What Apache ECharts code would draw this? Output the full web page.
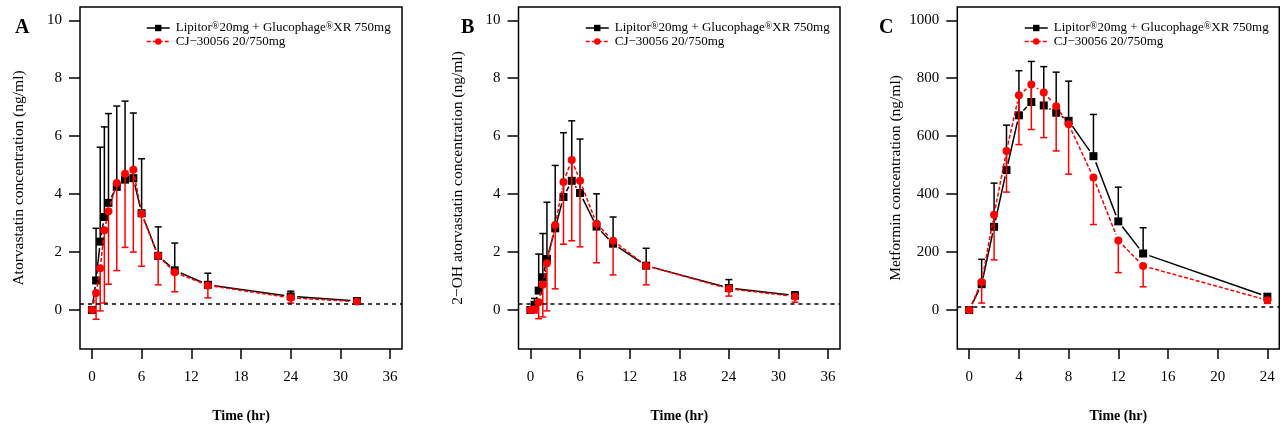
<!DOCTYPE html>
<html>
<head>
<meta charset="utf-8">
<script src="https://cdn.jsdelivr.net/npm/echarts@6/dist/echarts.min.js"></script>
<style>
html,body{margin:0;padding:0;background:#fff;}
#chart{width:1280px;height:428px;}
</style>
</head>
<body>
<div id="chart"></div>
<script>
// ---------- data ----------
var seriesNameRef = 'Lipitor®20mg + Glucophage®XR 750mg';
var seriesNameTest = 'CJ−30056 20/750mg';

var timeAB = [0, 0.5, 1, 1.5, 2, 3, 4, 5, 6, 8, 10, 14, 24, 32];
var timeC = [0, 1, 2, 3, 4, 5, 6, 7, 8, 10, 12, 14, 24];

// Panel A: atorvastatin
var aRefMean = [0, 1.02, 2.36, 3.21, 3.70, 4.25, 4.50, 4.55, 3.34, 1.87, 1.37, 0.87, 0.47, 0.31];
var aRefUpper = [0, 2.82, 5.62, 6.32, 6.78, 7.04, 7.21, 6.80, 5.22, 2.87, 2.31, 1.27, 0.65, 0.35];
var aTestMean = [0, 0.59, 1.44, 2.75, 3.41, 4.38, 4.70, 4.84, 3.32, 1.87, 1.30, 0.85, 0.42, 0.29];
var aTestLower = [0, -0.32, -0.03, 0.24, 0.89, 1.36, 2.16, 2.00, 1.51, 0.87, 0.63, 0.42, 0.24, 0.25];

// Panel B: 2-OH atorvastatin
var bRefMean = [0, 0.18, 0.67, 1.13, 1.76, 2.82, 3.90, 4.46, 4.04, 2.88, 2.29, 1.53, 0.76, 0.50];
var bRefUpper = [0, 0.40, 1.93, 2.64, 3.72, 4.99, 6.12, 6.53, 5.90, 4.01, 3.21, 2.13, 1.05, 0.63];
var bTestMean = [0, 0.03, 0.27, 0.88, 1.61, 2.93, 4.42, 5.18, 4.46, 2.98, 2.39, 1.53, 0.73, 0.47];
var bTestLower = [0, -0.10, -0.30, -0.24, -0.03, 0.73, 2.27, 2.39, 2.18, 1.63, 1.21, 0.87, 0.48, 0.27];

// Panel C: metformin
var cRefMean = [0, 89, 287, 483, 672, 718, 706, 681, 653, 531, 306, 195, 46];
var cRefUpper = [0, 175, 438, 638, 826, 858, 840, 821, 790, 675, 424, 284, 55];
var cTestMean = [0, 97, 329, 549, 741, 778, 751, 703, 641, 457, 240, 152, 34];
var cTestLower = [0, 24, 173, 407, 571, 623, 595, 549, 469, 295, 129, 80, 23];

// ticks and limits
var xTicksAB = [0, 6, 12, 18, 24, 30, 36];
var xTicksC = [0, 4, 8, 12, 16, 20, 24];
var yTicksAB = [0, 2, 4, 6, 8, 10];
var yTicksC = [0, 200, 400, 600, 800, 1000];
var lloqAB = 0.2;
var lloqC = 10;

var panelLetters = ['A', 'B', 'C'];
var yTitles = ['Atorvastatin concentration (ng/ml)', '2−OH atorvastatin concentration (ng/ml)', 'Metformin concentration (ng/ml)'];
var xTitle = 'Time (hr)';

// ---------- build ----------
var FONT = '"Liberation Serif", "DejaVu Serif", serif';
var RED = '#ff0000';

var panels = [
  {t: timeAB, rm: aRefMean, ru: aRefUpper, tm: aTestMean, tl: aTestLower, xt: xTicksAB, yt: yTicksAB, lloq: lloqAB,
   left: 80, width: 322, xmin: -1.44, xmax: 37.44, ymin: -1.346, ymax: 10.459, legLeft: 141, letterX: 15},
  {t: timeAB, rm: bRefMean, ru: bRefUpper, tm: bTestMean, tl: bTestLower, xt: xTicksAB, yt: yTicksAB, lloq: lloqAB,
   left: 518.5, width: 321.5, xmin: -1.44, xmax: 37.44, ymin: -1.346, ymax: 10.459, legLeft: 580, letterX: 461},
  {t: timeC, rm: cRefMean, ru: cRefUpper, tm: cTestMean, tl: cTestLower, xt: xTicksC, yt: yTicksC, lloq: lloqC,
   left: 957.3, width: 322, xmin: -0.96, xmax: 24.96, ymin: -134.6, ymax: 1045.9, legLeft: 1019, letterX: 879}
];

function pairs(t, v) { return t.map(function (x, i) { return [x, v[i]]; }); }
function segs(t, v) {
  var out = [];
  for (var i = 0; i + 1 < t.length; i++) out.push([t[i], v[i], t[i + 1], v[i + 1]]);
  return out;
}
function triples(t, m, b) {
  var out = [];
  for (var i = 0; i < t.length; i++) { if (b[i] !== m[i]) out.push([t[i], m[i], b[i]]); }
  return out;
}
function errRender(color) {
  return function (params, api) {
    var x = api.value(0), m = api.value(1), b = api.value(2);
    var p1 = api.coord([x, m]), p2 = api.coord([x, b]);
    var hw = 3.5;
    return {
      type: 'group',
      children: [
        {type: 'line', shape: {x1: p1[0], y1: p1[1], x2: p2[0], y2: p2[1]}, style: {stroke: color, lineWidth: 1.5}},
        {type: 'line', shape: {x1: p2[0] - hw, y1: p2[1], x2: p2[0] + hw, y2: p2[1]}, style: {stroke: color, lineWidth: 1.5}}
      ]
    };
  };
}
// R type="b": segments with gaps around points
function segRender(color, dash) {
  return function (params, api) {
    var a = api.coord([api.value(0), api.value(1)]);
    var b = api.coord([api.value(2), api.value(3)]);
    var dx = b[0] - a[0], dy = b[1] - a[1];
    var len = Math.sqrt(dx * dx + dy * dy);
    var gap = 6.5;
    if (len <= 2 * gap + 1) return null;
    var ux = dx / len, uy = dy / len;
    return {
      type: 'line',
      shape: {x1: a[0] + ux * gap, y1: a[1] + uy * gap, x2: b[0] - ux * gap, y2: b[1] - uy * gap},
      style: {stroke: color, lineWidth: 1.5, lineDash: dash}
    };
  };
}
function plainNum(v) { return String(v); }

var grids = [], xAxes = [], yAxes = [], series = [], legends = [], graphics = [];

panels.forEach(function (p, i) {
  grids.push({left: p.left, top: 7, width: p.width, height: 345, show: true, borderColor: '#000', borderWidth: 1.5,
    backgroundColor: 'transparent', containLabel: false});
  xAxes.push({
    type: 'value', gridIndex: i, min: p.xmin, max: p.xmax, position: 'bottom',
    axisLine: {show: false, onZero: false},
    axisTick: {show: true, inside: false, length: 10, lineStyle: {color: '#000', width: 1.5}, customValues: p.xt},
    axisLabel: {show: true, margin: 21, color: '#000', fontFamily: FONT, fontSize: 15, customValues: p.xt, formatter: plainNum},
    splitLine: {show: false},
    name: xTitle, nameLocation: 'middle', nameGap: 60, nameMoveOverlap: false,
    nameTextStyle: {fontFamily: FONT, fontSize: 14, fontWeight: 'bold', color: '#000'}
  });
  yAxes.push({
    type: 'value', gridIndex: i, min: p.ymin, max: p.ymax, position: 'left',
    axisLine: {show: false, onZero: false},
    axisTick: {show: true, inside: false, length: 11, lineStyle: {color: '#000', width: 1.5}, customValues: p.yt},
    axisLabel: {show: true, margin: 18, color: '#000', fontFamily: FONT, fontSize: 15, customValues: p.yt, formatter: plainNum},
    splitLine: {show: false},
    name: yTitles[i], nameLocation: 'middle', nameGap: 53, nameMoveOverlap: false,
    nameTextStyle: {fontFamily: FONT, fontSize: 15.5, color: '#000'}
  });
  // reference product: upper error bars, connecting segments, squares
  series.push({
    type: 'custom', xAxisIndex: i, yAxisIndex: i, renderItem: errRender('#000'),
    data: triples(p.t, p.rm, p.ru), silent: true, z: 2
  });
  series.push({
    type: 'custom', xAxisIndex: i, yAxisIndex: i, renderItem: segRender('#000', null),
    data: segs(p.t, p.rm), silent: true, z: 2
  });
  series.push({
    name: seriesNameRef, type: 'line', xAxisIndex: i, yAxisIndex: i,
    data: pairs(p.t, p.rm), symbol: 'rect', symbolSize: 8, showSymbol: true,
    itemStyle: {color: '#000'}, lineStyle: {color: '#000', width: 1.5, type: 'solid', opacity: 0}, z: 3,
    markLine: {silent: true, symbol: 'none', label: {show: false},
      lineStyle: {color: '#000', type: [4, 4], width: 1.5, opacity: 1},
      data: [{yAxis: p.lloq}]}
  });
  // test product: lower error bars, dashed segments, circles
  series.push({
    type: 'custom', xAxisIndex: i, yAxisIndex: i, renderItem: errRender(RED),
    data: triples(p.t, p.tm, p.tl), silent: true, z: 4
  });
  series.push({
    type: 'custom', xAxisIndex: i, yAxisIndex: i, renderItem: segRender(RED, [4, 2]),
    data: segs(p.t, p.tm), silent: true, z: 4
  });
  series.push({
    name: seriesNameTest, type: 'line', xAxisIndex: i, yAxisIndex: i,
    data: pairs(p.t, p.tm), symbol: 'circle', symbolSize: 8, showSymbol: true,
    itemStyle: {color: RED}, lineStyle: {color: RED, width: 1.5, type: [4, 2], opacity: 0}, z: 5
  });
  legends.push({
    left: p.legLeft, top: 16, orient: 'vertical', itemWidth: 23, itemHeight: 8, itemGap: 0,
    selectedMode: false,
    data: [
      {name: seriesNameRef, lineStyle: {color: '#000', width: 1.5, type: 'solid', opacity: 1}},
      {name: seriesNameTest, lineStyle: {color: RED, width: 1.5, type: [4, 2], opacity: 1}}
    ],
    formatter: function (name) {
      if (name === seriesNameRef) return '{a|Lipitor}{s|®}{a|20mg + Glucophage}{s|®}{a|XR 750mg}';
      return '{a|' + name + '}';
    },
    textStyle: {fontFamily: FONT, fontSize: 13, color: '#000', padding: [0, 0, 0, 1],
      rich: {
        a: {fontFamily: FONT, fontSize: 13, color: '#000', lineHeight: 14},
        s: {fontFamily: FONT, fontSize: 10, color: '#000', lineHeight: 14, verticalAlign: 'top', padding: [0, 0, 4, 0]}
      }}
  });
  graphics.push({
    type: 'text', left: p.letterX, top: 18,
    style: {text: panelLetters[i], fontFamily: FONT, fontSize: 20, fontWeight: 'bold', fill: '#000'}
  });
});

var chart = echarts.init(document.getElementById('chart'), null, {renderer: 'canvas'});
chart.setOption({
  animation: false,
  backgroundColor: '#fff',
  grid: grids, xAxis: xAxes, yAxis: yAxes, series: series, legend: legends, graphic: graphics
});
</script>
</body>
</html>
